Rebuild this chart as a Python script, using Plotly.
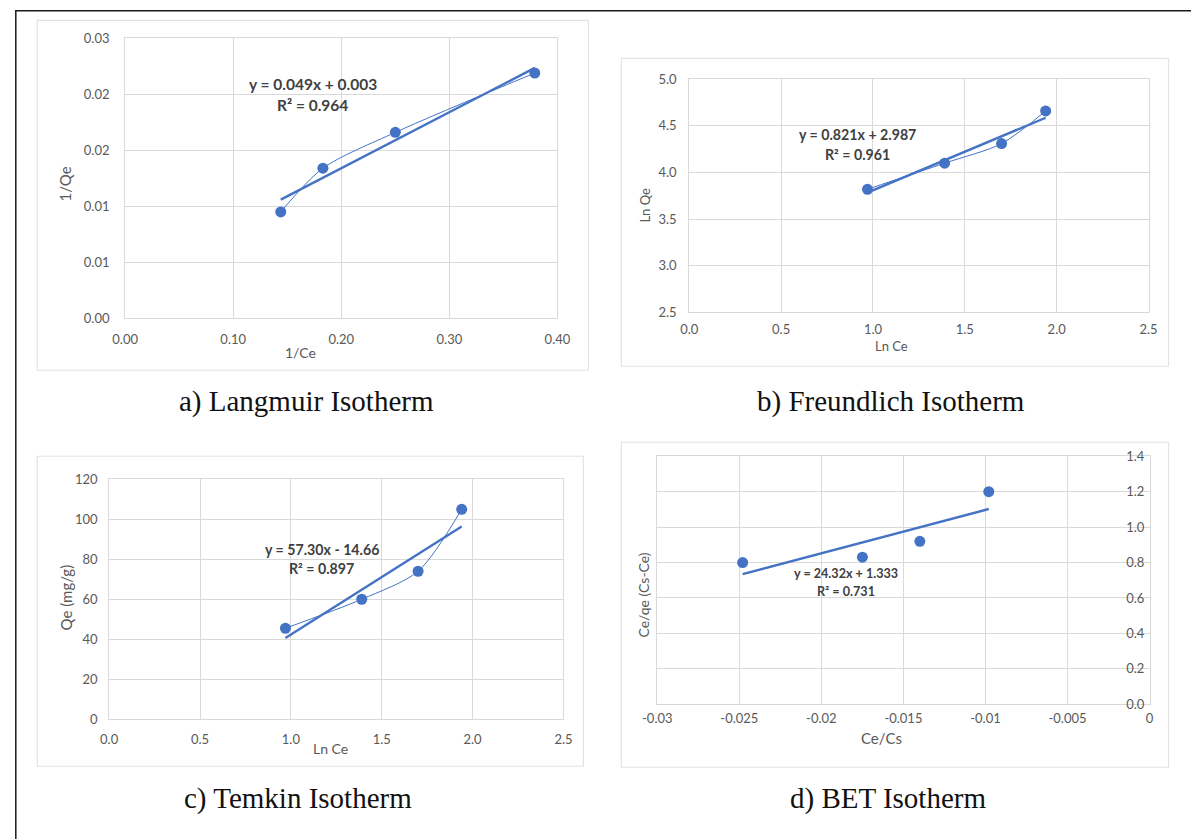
import numpy as np
import plotly.graph_objects as go

W, H = 1191, 839

# ---------------- data ----------------
# a) Langmuir
lang_x = [0.144, 0.183, 0.250, 0.379]          # 1/Ce
lang_y = [0.0095, 0.0134, 0.0166, 0.0219]      # 1/Qe
lang_eq = "y = 0.049x + 0.003"
lang_r2 = "R² = 0.964"
lang_yticks = [0.0, 0.005, 0.010, 0.015, 0.020, 0.025]
lang_yticktext = ["0.00", "0.01", "0.01", "0.02", "0.02", "0.03"]
lang_xticks = [0.0, 0.1, 0.2, 0.3, 0.4]
lang_xticktext = ["0.00", "0.10", "0.20", "0.30", "0.40"]

# b) Freundlich
freu_x = [0.97, 1.39, 1.70, 1.94]              # Ln Ce
freu_y = [3.82, 4.10, 4.31, 4.66]              # Ln Qe
freu_eq = "y = 0.821x + 2.987"
freu_r2 = "R² = 0.961"

# c) Temkin
temk_x = [0.97, 1.39, 1.70, 1.94]              # Ln Ce
temk_y = [45.5, 60.0, 74.0, 105.0]             # Qe (mg/g)
temk_eq = "y = 57.30x - 14.66"
temk_r2 = "R² = 0.897"

# d) BET
bet_x = [-0.0248, -0.0175, -0.0140, -0.0098]   # Ce/Cs
bet_y = [0.80, 0.83, 0.92, 1.20]               # Ce/qe (Cs-Ce)
bet_eq = "y = 24.32x + 1.333"
bet_r2 = "R² = 0.731"
bet_xticks = [-0.03, -0.025, -0.02, -0.015, -0.01, -0.005, 0]
bet_xticktext = ["-0.03", "-0.025", "-0.02", "-0.015", "-0.01", "-0.005", "0"]

captions = ["a) Langmuir Isotherm", "b) Freundlich Isotherm",
            "c) Temkin Isotherm", "d) BET Isotherm"]

# ---------------- style ----------------
BLUE = "#4472C4"
GRID = "#d9d9d9"
TICK = "#595959"
EQC = "#404040"
FONT = "Lato, Open Sans, sans-serif"

# observed placement of the page in the photographed picture
AX, SX = 13.7, 0.978
AY, SY = 7.7, 0.981


def px(x):
    return ((x - AX) / SX) / W


def py(y):
    return 1 - ((y - AY) / SY) / H


fig = go.Figure()


def add_panel(idx, xs, ys, smooth=True):
    xa = "x" if idx == 1 else f"x{idx}"
    ya = "y" if idx == 1 else f"y{idx}"
    if smooth:
        fig.add_trace(go.Scatter(x=xs, y=ys, mode="lines",
                                 line=dict(color=BLUE, width=1, shape="spline", smoothing=0.8),
                                 xaxis=xa, yaxis=ya, showlegend=False, hoverinfo="skip"))
    fig.add_trace(go.Scatter(x=xs, y=ys, mode="markers",
                             marker=dict(color=BLUE, size=11),
                             xaxis=xa, yaxis=ya, showlegend=False))
    k, b = np.polyfit(xs, ys, 1)
    tx = [min(xs), max(xs)]
    fig.add_trace(go.Scatter(x=tx, y=[k * t + b for t in tx], mode="lines",
                             line=dict(color=BLUE, width=2.4),
                             xaxis=xa, yaxis=ya, showlegend=False, hoverinfo="skip"))


add_panel(1, lang_x, lang_y)
add_panel(2, freu_x, freu_y)
add_panel(3, temk_x, temk_y)
add_panel(4, bet_x, bet_y, smooth=False)

ax_common = dict(showgrid=True, gridcolor=GRID, gridwidth=1, zeroline=False,
                 showline=True, linecolor=GRID, linewidth=1, mirror=True,
                 ticks="", tickfont=dict(family=FONT, size=13, color=TICK))

fig.update_layout(
    width=W, height=H, margin=dict(l=0, r=0, t=0, b=0),
    paper_bgcolor="white", plot_bgcolor="white",
    xaxis=dict(domain=[px(124), px(557)], range=[0, 0.4], anchor="y",
               tickvals=lang_xticks, ticktext=lang_xticktext, ticklabelstandoff=9, **ax_common),
    yaxis=dict(domain=[py(318), py(38)], range=[0, 0.025], anchor="x",
               tickvals=lang_yticks, ticktext=lang_yticktext, ticklabelstandoff=12, **ax_common),
    xaxis2=dict(domain=[px(689), px(1149)], range=[0, 2.5], anchor="y2",
                dtick=0.5, tickformat=".1f", ticklabelstandoff=5, **ax_common),
    yaxis2=dict(domain=[py(312), py(79)], range=[2.5, 5.0], anchor="x2",
                dtick=0.5, tickformat=".1f", ticklabelstandoff=9, **ax_common),
    xaxis3=dict(domain=[px(108), px(563)], range=[0, 2.5], anchor="y3",
                dtick=0.5, tickformat=".1f", ticklabelstandoff=8, **ax_common),
    yaxis3=dict(domain=[py(719), py(479)], range=[0, 120], anchor="x3",
                dtick=20, ticklabelstandoff=8, **ax_common),
    xaxis4=dict(domain=[px(657), px(1150)], range=[-0.03, 0], anchor="y4",
                tickvals=bet_xticks, ticktext=bet_xticktext, ticklabelstandoff=2,
                ticklabeloverflow="allow", **ax_common),
    yaxis4=dict(domain=[py(704), py(456)], range=[0, 1.4], anchor="x4",
                side="right", dtick=0.2, tickformat=".1f",
                ticklabelstandoff=-27, ticklabeloverflow="allow", **ax_common),
)

shapes = []
# outer black frame
shapes.append(dict(type="rect", xref="paper", yref="paper",
                   x0=px(14.5), x1=px(1250), y0=py(900), y1=py(10.5),
                   line=dict(color="#1a1a1a", width=1.5), fillcolor="rgba(0,0,0,0)"))
# chart boxes
for (x0, y0, x1, y1) in [(36, 20, 588, 370), (621, 58, 1169, 366),
                         (36, 456, 583, 766), (621, 442, 1169, 767)]:
    shapes.append(dict(type="rect", xref="paper", yref="paper",
                       x0=px(x0), x1=px(x1), y0=py(y1), y1=py(y0),
                       line=dict(color="#e3e3e3", width=1.2), fillcolor="rgba(0,0,0,0)"))
fig.update_layout(shapes=shapes)

ann = []


def text(x, y, s, size=12, color=TICK, bold=False, angle=0, family=FONT):
    ann.append(dict(x=px(x), y=py(y), xref="paper", yref="paper", text=(f"<b>{s}</b>" if bold else s),
                    showarrow=False, textangle=angle, xanchor="center", yanchor="middle",
                    font=dict(family=family, size=size, color=color)))


# axis titles
text(300, 352, "1/Ce", 14)
text(64, 184, "1/Qe", 15, angle=-90)
text(892, 346, "Ln Ce", 13)
text(645, 205, "Ln Qe", 13, angle=-90)
text(330, 748, "Ln Ce", 14)
text(65, 597, "Qe (mg/g)", 15, angle=-90)
text(882, 738, "Ce/Cs", 15)
text(643, 595, "Ce/qe (Cs-Ce)", 14, angle=-90)

# equations
text(312, 84, lang_eq, 15.5, EQC, True)
text(312, 105, lang_r2, 15.5, EQC, True)
text(858, 134, freu_eq, 14.2, EQC, True)
text(858, 154, freu_r2, 14.2, EQC, True)
text(321, 549, temk_eq, 14.2, EQC, True)
text(321, 568, temk_r2, 14.2, EQC, True)
text(846, 573, bet_eq, 12.6, EQC, True)
text(846, 591, bet_r2, 12.6, EQC, True)

# captions
cap_pos = [(306, 401), (891, 401), (297, 798), (888, 798)]
for (cx, cy), c in zip(cap_pos, captions):
    text(cx, cy, c, 29, "#111111", family="Liberation Serif, Times New Roman, serif")

fig.update_layout(annotations=ann)

fig.write_html("out.html", config={"displayModeBar": False},
               post_script="document.body.style.margin='0';document.body.style.overflow='hidden';")
